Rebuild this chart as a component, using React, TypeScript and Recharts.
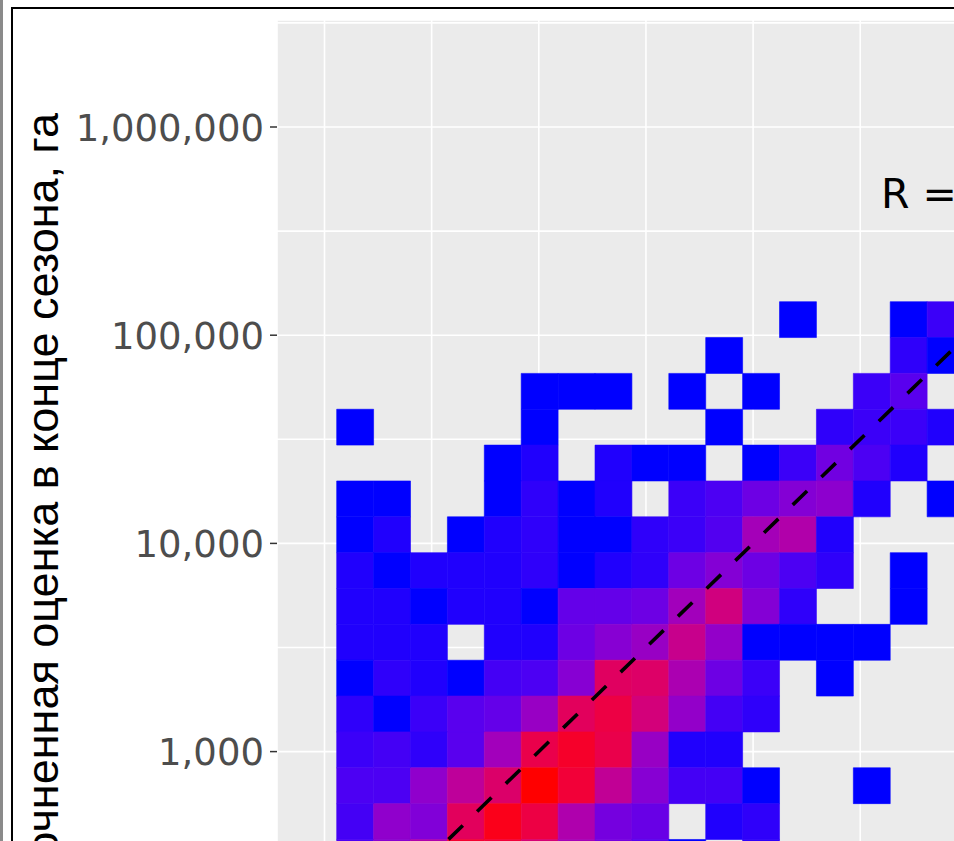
import React from "react";
import {
  CartesianGrid,
  ComposedChart,
  Line,
  ReferenceArea,
  ReferenceDot,
  XAxis,
  YAxis,
} from "recharts";

// 2d histogram of log10(ha): bins are square in log space
const binWidth = 0.1722;
const firstColLeft = 2.0569; // log10 ha, left edge of column 0
const firstRowTop = 5.1609; // log10 ha, top edge of row 0

// counts per bin, rows from top to bottom, columns left to right (0 = empty)
const row00 = [0, 0, 0, 0, 0, 0, 0, 0, 0, 0, 0, 0, 1, 0, 0, 1, 4];
const row01 = [0, 0, 0, 0, 0, 0, 0, 0, 0, 0, 1, 0, 0, 0, 0, 3, 1];
const row02 = [0, 0, 0, 0, 0, 1, 1, 1, 0, 1, 0, 1, 0, 0, 4, 8, 0];
const row03 = [1, 0, 0, 0, 0, 1, 0, 0, 0, 0, 1, 0, 0, 3, 4, 4, 2];
const row04 = [0, 0, 0, 0, 1, 2, 0, 2, 1, 1, 0, 1, 4, 13, 6, 2, 0];
const row05 = [1, 1, 0, 0, 1, 3, 1, 2, 0, 4, 6, 12, 18, 21, 2, 0, 1];
const row06 = [1, 2, 0, 1, 2, 3, 1, 1, 3, 4, 7, 30, 36, 2, 0, 0, 0];
const row07 = [2, 1, 2, 2, 2, 3, 1, 2, 3, 12, 18, 12, 6, 3, 0, 1, 0];
const row08 = [2, 2, 1, 2, 2, 1, 10, 10, 12, 29, 55, 18, 3, 0, 0, 1, 0];
const row09 = [2, 2, 2, 0, 2, 2, 12, 19, 25, 49, 23, 1, 1, 1, 1, 0, 0];
const row10 = [1, 3, 2, 1, 5, 6, 19, 68, 65, 33, 12, 4, 0, 1, 0, 0, 0];
const row11 = [3, 1, 4, 8, 10, 25, 70, 80, 57, 23, 5, 3, 0, 0, 0, 0, 0];
const row12 = [4, 5, 3, 8, 29, 77, 90, 77, 25, 2, 2, 0, 0, 0, 0, 0, 0];
const row13 = [6, 6, 22, 43, 64, 100, 85, 45, 19, 5, 5, 1, 0, 0, 1, 0, 0];
const row14 = [5, 22, 17, 70, 95, 80, 35, 14, 11, 0, 2, 3, 0, 0, 0, 0, 0];
const row15 = [6, 20, 35, 88, 85, 60, 30, 14, 8, 1, 0, 3, 0, 0, 0, 0, 0];
const counts = [
  row00, row01, row02, row03, row04, row05, row06, row07,
  row08, row09, row10, row11, row12, row13, row14, row15,
];

const majorTicks = [2, 3, 4, 5, 6];
const minorTicks = [2.5, 3.5, 4.5, 5.5, 6.5];
const yTitle = "Уточненная оценка в конце сезона, га";
const corrText = "R = 0.75, p < 2.2e-16";
const corrPos = { x: 4.597, y: 5.6095 };

// layout
const W = 1320;
const H = 1100;
const Y_AXIS_W = 277;
const X_AXIS_H = 80;
const MARGIN = { top: 20, right: 20, bottom: 20, left: 0 };
const plotW = W - Y_AXIS_W - MARGIN.right;
const plotH = H - MARGIN.top - MARGIN.bottom - X_AXIS_H;
const pxPerDecadeX = 214.3;
const pxPerDecadeY = 208.2;
const xMin = 2 - 47.5 / pxPerDecadeX;
const xMax = xMin + plotW / pxPerDecadeX;
const yMax = 6 + 107 / pxPerDecadeY;
const yMin = yMax - plotH / pxPerDecadeY;
const plotBottom = MARGIN.top + plotH;

const lo = Math.max(xMin, yMin);
const hi = Math.min(xMax, yMax);
const identity = [
  { x: lo, y: lo },
  { x: hi, y: hi },
];

// ggplot style blue -> red gradient, interpolated in CIELAB
function toLinear(c: number) {
  c /= 255;
  return c <= 0.04045 ? c / 12.92 : Math.pow((c + 0.055) / 1.055, 2.4);
}
function toSrgb(c: number) {
  const v = c <= 0.0031308 ? 12.92 * c : 1.055 * Math.pow(c, 1 / 2.4) - 0.055;
  return Math.round(Math.min(1, Math.max(0, v)) * 255);
}
function rgbToLab(rgb: number[]) {
  const [r, g, b] = rgb.map(toLinear);
  const X = (0.4124 * r + 0.3576 * g + 0.1805 * b) / 0.95047;
  const Y = 0.2126 * r + 0.7152 * g + 0.0722 * b;
  const Z = (0.0193 * r + 0.1192 * g + 0.9505 * b) / 1.08883;
  const f = (t: number) => (t > 0.008856 ? Math.cbrt(t) : 7.787 * t + 16 / 116);
  const fx = f(X), fy = f(Y), fz = f(Z);
  return [116 * fy - 16, 500 * (fx - fy), 200 * (fy - fz)];
}
function labToRgb(lab: number[]) {
  const [L, a, b] = lab;
  const fy = (L + 16) / 116;
  const fx = fy + a / 500;
  const fz = fy - b / 200;
  const inv = (t: number) => (t * t * t > 0.008856 ? t * t * t : (t - 16 / 116) / 7.787);
  const X = inv(fx) * 0.95047, Y = inv(fy), Z = inv(fz) * 1.08883;
  const r = 3.2406 * X - 1.5372 * Y - 0.4986 * Z;
  const g = -0.9689 * X + 1.8758 * Y + 0.0415 * Z;
  const bl = 0.0557 * X - 0.204 * Y + 1.057 * Z;
  return `rgb(${toSrgb(r)},${toSrgb(g)},${toSrgb(bl)})`;
}
const LOW = rgbToLab([0, 0, 255]);
const HIGH = rgbToLab([255, 0, 0]);
const countMax = Math.max(...counts.flat());
function fillFor(n: number) {
  const t = (n - 1) / (countMax - 1);
  return labToRgb(LOW.map((v, i) => v + (HIGH[i] - v) * t));
}

const cells = counts.flatMap((row, r) =>
  row
    .map((n, c) => ({
      n,
      x1: firstColLeft + c * binWidth,
      x2: firstColLeft + (c + 1) * binWidth,
      y1: firstRowTop - (r + 1) * binWidth,
      y2: firstRowTop - r * binWidth,
    }))
    .filter((d) => d.n > 0)
);

const fmt = (v: number) => Math.pow(10, v).toLocaleString("en-US");

function YTick(props: any) {
  const { y, payload } = props;
  if (!Number.isInteger(payload.value)) return <g />;
  return (
    <g>
      <line x1={Y_AXIS_W - 7} x2={Y_AXIS_W} y1={y} y2={y} stroke="#333333" strokeWidth={1.5} />
      <text
        x={Y_AXIS_W - 13}
        y={y + 13.5}
        textAnchor="end"
        fontFamily="DejaVu Sans"
        fontSize={37}
        fill="#4D4D4D"
      >
        {fmt(payload.value)}
      </text>
    </g>
  );
}

function XTick(props: any) {
  const { x, payload } = props;
  if (!Number.isInteger(payload.value)) return <g />;
  return (
    <g>
      <line x1={x} x2={x} y1={plotBottom} y2={plotBottom + 7} stroke="#333333" strokeWidth={1.5} />
      <text
        x={x}
        y={plotBottom + 44}
        textAnchor="middle"
        fontFamily="DejaVu Sans"
        fontSize={37}
        fill="#4D4D4D"
      >
        {fmt(payload.value)}
      </text>
    </g>
  );
}

const renderYTitle = () => (
  <text
    x={58}
    y={113}
    transform="rotate(-90, 58, 113)"
    textAnchor="end"
    fontFamily="Liberation Sans"
    fontSize={45}
    fill="#000000"
  >
    {yTitle}
  </text>
);

const renderCorr = (props: any) => {
  const vb = props.viewBox || {};
  return (
    <text x={vb.x} y={vb.y} fontFamily="DejaVu Sans" fontSize={41} fill="#000000">
      {corrText}
    </text>
  );
};

export default function App() {
  const allTicks = [...majorTicks, ...minorTicks].sort((a, b) => a - b);
  return (
    <div
      style={{
        position: "absolute",
        left: 0,
        top: 0,
        width: 954,
        height: 841,
        overflow: "hidden",
        background: "#ffffff",
      }}
    >
      <div style={{ position: "absolute", left: 0, top: 0, width: 3, height: 841, background: "#8a8a8a" }} />
      <div
        style={{
          position: "absolute",
          left: 11,
          top: 7,
          width: 2000,
          height: 2000,
          borderLeft: "2px solid #000",
          borderTop: "2px solid #000",
        }}
      />
      <div style={{ position: "absolute", left: 0, top: 0 }}>
        <ComposedChart width={W} height={H} margin={MARGIN}>
          <CartesianGrid fill="#EBEBEB" fillOpacity={1} stroke="#FFFFFF" strokeWidth={1.6} />
          <XAxis
            type="number"
            dataKey="x"
            domain={[xMin, xMax]}
            allowDataOverflow
            ticks={allTicks}
            interval={0}
            height={X_AXIS_H}
            axisLine={false}
            tickLine={false}
            tick={<XTick />}
          />
          <YAxis
            type="number"
            domain={[yMin, yMax]}
            allowDataOverflow
            ticks={allTicks}
            interval={0}
            width={Y_AXIS_W}
            axisLine={false}
            tickLine={false}
            tick={<YTick />}
            label={renderYTitle}
          />
          {cells.map((d, i) => (
            <ReferenceArea
              key={i}
              x1={d.x1}
              x2={d.x2}
              y1={d.y1}
              y2={d.y2}
              fill={fillFor(d.n)}
              fillOpacity={1}
              stroke={fillFor(d.n)}
              strokeWidth={0.6}
              ifOverflow="visible"
            />
          ))}
          <Line
            data={identity}
            dataKey="y"
            type="linear"
            stroke="#000000"
            strokeWidth={3.6}
            strokeDasharray="20 20"
            strokeDashoffset={9.5}
            dot={false}
            activeDot={false}
            isAnimationActive={false}
          />
          <ReferenceDot
            x={corrPos.x}
            y={corrPos.y}
            r={0}
            fill="none"
            stroke="none"
            label={renderCorr}
          />
        </ComposedChart>
      </div>
    </div>
  );
}
